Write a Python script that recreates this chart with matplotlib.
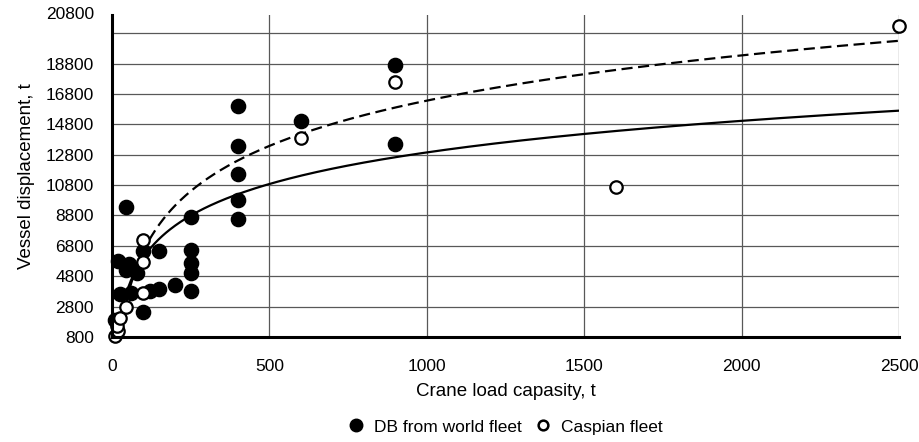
import matplotlib.pyplot as plt
import numpy as np
from matplotlib.lines import Line2D

plt.rcParams['font.family'] = ['Liberation Sans', 'DejaVu Sans']

# DB from world fleet: crane load capacity (t) vs vessel displacement (t)
world_load = [10, 20, 25, 45, 45, 55, 60, 80, 100, 100, 120, 150, 150, 200,
              250, 250, 250, 250, 250, 400, 400, 400, 400, 400, 600, 900, 900]
world_disp = [1900, 5800, 3650, 9350, 5200, 5600, 3700, 5000, 6450, 2450, 3850,
              6450, 3950, 4200, 8700, 6500, 5650, 5000, 3800, 16000, 13400,
              11500, 9800, 8600, 15000, 18700, 13500]

# Caspian fleet
casp_load = [10, 20, 15, 25, 45, 100, 100, 100, 600, 900, 1600, 2500]
casp_disp = [850, 1200, 1500, 2050, 2800, 3700, 5750, 7200, 13900, 17600,
             10700, 21300]

# logarithmic trend lines y = a*ln(x) + b
world_trend = (3000, -7772)
casp_trend = (4300, -13343)

x_ticks = [0, 500, 1000, 1500, 2000, 2500]
y_ticks = list(range(800, 20801, 2000))

fig = plt.figure(figsize=(9.2, 4.42), dpi=100)
ax = fig.add_axes([0.1217, 0.2376, 0.8555, 0.7285])

xs = np.linspace(10, 2500, 600)
ax.plot(xs, world_trend[0] * np.log(xs) + world_trend[1], color='black',
        lw=1.6, zorder=3)
ax.plot(xs, casp_trend[0] * np.log(xs) + casp_trend[1], color='black',
        lw=1.6, ls=(0, (5, 2.5)), zorder=3)

ax.scatter(world_load, world_disp, s=105, color='black', zorder=4,
           clip_on=False)
ax.scatter(casp_load, casp_disp, s=80, facecolor='white', edgecolor='black',
           linewidth=1.6, zorder=5, clip_on=False)

ax.set_xlim(0, 2500)
ax.set_ylim(800, 22000)
ax.set_xticks(x_ticks)
ax.set_yticks(y_ticks)
ax.set_yticklabels([str(v) for v in y_ticks[:-1]] + [''])
ax.text(-0.022, 1.0, '20800', transform=ax.transAxes, ha='right',
        va='center', fontsize=12.5)
ax.tick_params(length=0, labelsize=12.5)
ax.tick_params(axis='x', pad=16)
ax.tick_params(axis='y', pad=13)

ax.grid(True, color='#585858', lw=0.9)
ax.set_axisbelow(True)
for side in ['top', 'right']:
    ax.spines[side].set_visible(False)
for side in ['left', 'bottom']:
    ax.spines[side].set_linewidth(2.2)
    ax.spines[side].set_zorder(6)

ax.set_xlabel('Crane load capasity, t', fontsize=13.5, labelpad=6)
ax.set_ylabel('Vessel displacement, t', fontsize=13.5, labelpad=8)

handles = [
    Line2D([], [], marker='o', ls='', color='black', ms=9),
    Line2D([], [], marker='o', ls='', mfc='white', mec='black', mew=1.8, ms=7),
]
fig.legend(handles, ['DB from world fleet', 'Caspian fleet'], loc='center',
           bbox_to_anchor=(0.548, 0.034), ncol=2, frameon=False, fontsize=12.5,
           handletextpad=0.45, columnspacing=0.6, handlelength=1.2)

fig.savefig('out.png', dpi=100)
